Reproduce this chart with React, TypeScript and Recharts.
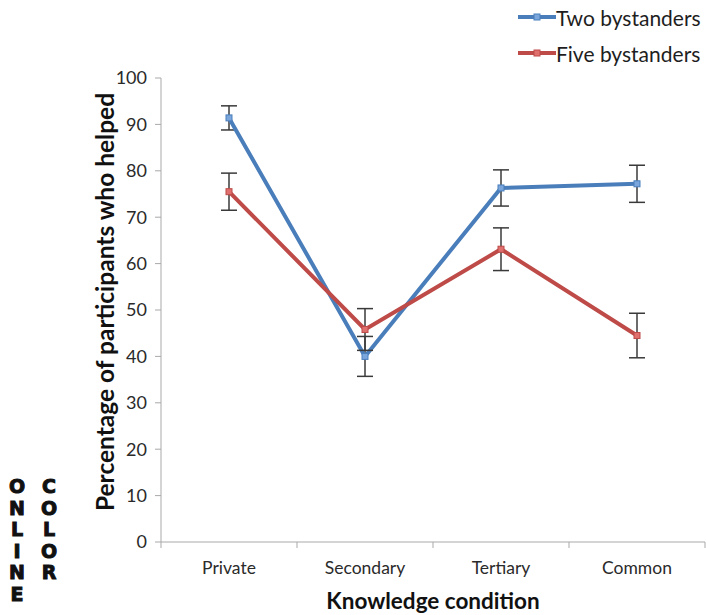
import React from 'react';
import { LineChart, Line, XAxis, YAxis, ErrorBar, Legend } from 'recharts';

const categories = ['Private', 'Secondary', 'Tertiary', 'Common'];
const twoBystanders = [91.4, 40.0, 76.3, 77.2];
const twoBystandersErr = [2.6, 4.3, 3.9, 4.0];
const fiveBystanders = [75.5, 45.8, 63.1, 44.5];
const fiveBystandersErr = [4.0, 4.5, 4.6, 4.8];
const yTicks = [0, 10, 20, 30, 40, 50, 60, 70, 80, 90, 100];
const xTicks = [0, 0.5, 1, 1.5, 2, 2.5, 3, 3.5, 4];
const seriesNames = ['Two bystanders', 'Five bystanders'];
const seriesColors = ['#4a7ebb', '#be4b48'];
const markerFills = ['#7aa6dc', '#e0706e'];
const xTitle = 'Knowledge condition';
const yTitle = 'Percentage of participants who helped';
const stampLeft = 'ONLINE';
const stampRight = 'COLOR';

const data = categories.map((c, i) => ({
  pos: i + 0.5,
  name: c,
  two: twoBystanders[i],
  twoErr: twoBystandersErr[i],
  five: fiveBystanders[i],
  fiveErr: fiveBystandersErr[i],
}));

const FONT = 'Lato, "Open Sans", sans-serif';
const AXIS_COLOR = '#a9a9a9';

const CatTick = (props: any) => {
  const { x, y, payload } = props;
  const v = payload.value;
  if (Number.isInteger(v)) {
    return <line x1={x} x2={x} y1={y - 8} y2={y - 2} stroke={AXIS_COLOR} strokeWidth={1} />;
  }
  const label = categories[Math.floor(v)];
  return (
    <text x={x} y={y + 12} dy="0.71em" textAnchor="middle" fontFamily={FONT} fontSize={17.5} fill="#2a2a2a">
      {label}
    </text>
  );
};

const YTitle = (props: any) => {
  const vb = props.viewBox;
  const cx = vb.x + 104;
  const cy = vb.y + vb.height / 2 - 8;
  return (
    <text x={cx} y={cy} transform={`rotate(-90, ${cx}, ${cy})`} textAnchor="middle" dominantBaseline="central"
      fontFamily={FONT} fontSize={24.5} fontWeight={700} fill="#111">
      {yTitle}
    </text>
  );
};

const makeDot = (i: number) => (props: any) => {
  const { cx, cy, index } = props;
  return (
    <rect key={`d${i}-${index}`} x={cx - 3} y={cy - 3} width={6} height={6}
      fill={markerFills[i]} stroke={seriesColors[i]} strokeWidth={1} />
  );
};

const LegendContent = () => (
  <div style={{ position: 'relative', width: 706, height: 70, fontFamily: FONT }}>
    {seriesNames.map((n, i) => (
      <div key={n} style={{ position: 'absolute', left: 518, top: 4 + i * 36, display: 'flex', alignItems: 'center', height: 26 }}>
        <svg width={38} height={10} style={{ display: 'block' }}>
          <line x1={0} x2={38} y1={5} y2={5} stroke={seriesColors[i]} strokeWidth={4} />
          <rect x={16} y={2} width={6} height={6} fill={markerFills[i]} stroke={seriesColors[i]} />
        </svg>
        <span style={{ fontSize: 21, color: '#1e1e1e', whiteSpace: 'nowrap' }}>{n}</span>
      </div>
    ))}
  </div>
);

const stackStyle = (left: number): React.CSSProperties => ({
  position: 'absolute', left, top: 476, fontFamily: '"DejaVu Sans", "Liberation Sans", sans-serif',
  fontWeight: 700, fontSize: 19, lineHeight: '21.5px', color: '#111', textAlign: 'center', width: 20,
  WebkitTextStroke: '1px #111',
});

const letterStyle: React.CSSProperties = { height: 21.5, overflow: 'visible' };

export default function App() {
  return (
    <div style={{ position: 'absolute', left: 0, top: 0, width: 706, height: 615, background: '#fff' }}>
      <LineChart width={706} height={615} data={data} margin={{ top: 8, right: 1, bottom: 0, left: 0 }}>
        <Legend verticalAlign="top" align="left" layout="horizontal" content={<LegendContent />}
          wrapperStyle={{ top: 0, left: 0, width: 706, height: 70 }} />
        <XAxis dataKey="pos" type="number" domain={[0, 4]} ticks={xTicks} interval={0}
          height={73} tickLine={false} tickSize={6} tickMargin={2}
          axisLine={{ stroke: AXIS_COLOR }} tick={<CatTick />}
          label={{ value: xTitle, position: 'insideBottom', offset: 6, fontFamily: FONT, fontSize: 22.5, fontWeight: 700, fill: '#111' }} />
        <YAxis type="number" domain={[0, 100]} ticks={yTicks} interval={0} width={161}
          tickSize={6} tickMargin={8} axisLine={{ stroke: AXIS_COLOR }} tickLine={{ stroke: AXIS_COLOR }}
          tick={{ fontFamily: FONT, fontSize: 18, fill: '#2a2a2a' }}
          label={<YTitle />} />
        <Line dataKey="two" name={seriesNames[0]} stroke={seriesColors[0]} strokeWidth={4}
          dot={makeDot(0)} activeDot={false} isAnimationActive={false}>
          <ErrorBar dataKey="twoErr" direction="y" width={8} stroke="#3a3a3a" strokeWidth={1.5} />
        </Line>
        <Line dataKey="five" name={seriesNames[1]} stroke={seriesColors[1]} strokeWidth={4}
          dot={makeDot(1)} activeDot={false} isAnimationActive={false}>
          <ErrorBar dataKey="fiveErr" direction="y" width={8} stroke="#3a3a3a" strokeWidth={1.5} />
        </Line>
      </LineChart>
      <div style={stackStyle(7)}>
        {stampLeft.split('').map((ch, i) => <div key={i} style={letterStyle}>{ch}</div>)}
      </div>
      <div style={stackStyle(39)}>
        {stampRight.split('').map((ch, i) => <div key={i} style={letterStyle}>{ch}</div>)}
      </div>
    </div>
  );
}
